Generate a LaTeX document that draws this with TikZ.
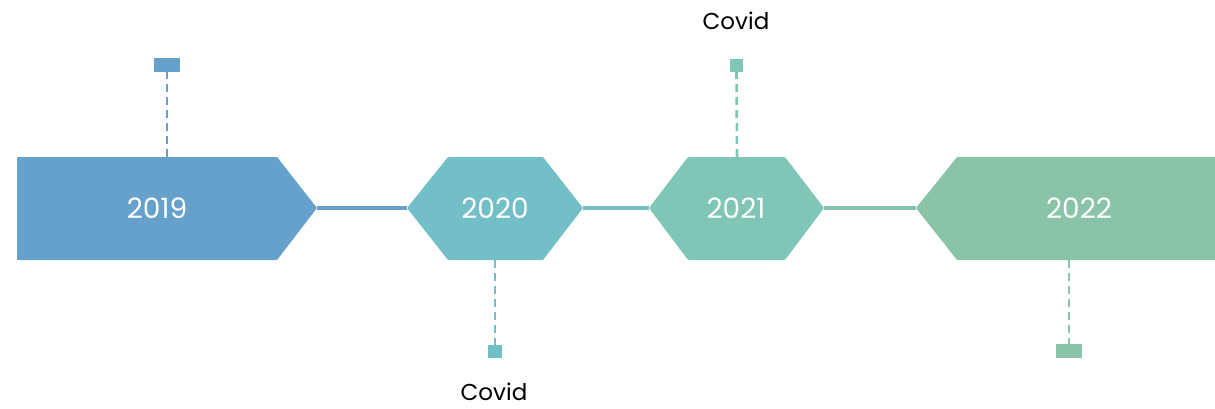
\documentclass[tikz,border=0pt]{standalone}
\usepackage{fontspec}
\setmainfont{Poppins}
\definecolor{cA}{HTML}{65A1CB}
\definecolor{cB}{HTML}{72BFC8}
\definecolor{cC}{HTML}{80C6B7}
\definecolor{cD}{HTML}{8AC4A8}
\definecolor{cL}{HTML}{85C5AE}
\begin{document}
\begin{tikzpicture}[x=1pt,y=-1pt,
  shapefill/.style={fill=#1,draw=none,rounded corners=1pt},
  year/.style={text=white,font=\fontsize{28}{32}\selectfont,inner sep=0pt},
  lbl/.style={text=black,font=\fontsize{23}{27}\selectfont,inner sep=0pt},
  link/.style={draw=#1,line width=3.5pt},
  stem/.style={draw=#1,line width=2.6pt,dash pattern=on 8pt off 5pt}]
\useasboundingbox (0,0) rectangle (1215,409);
% shapes
\fill[shapefill=cA] (17,157) -- (277,157) -- (317,208) -- (277,260) -- (17,260) -- cycle;
\fill[shapefill=cB] (407,208) -- (448,157) -- (543,157) -- (583,208) -- (543,260) -- (448,260) -- cycle;
\fill[shapefill=cC] (649,208) -- (688,157) -- (785,157) -- (824,208) -- (785,260) -- (688,260) -- cycle;
\fill[shapefill=cD] (916,208) -- (957,157) -- (1216,157) -- (1216,260) -- (957,260) -- cycle;
% anchor coordinates
\coordinate (t19) at (317,208);
\coordinate (l20) at (407,208);
\coordinate (r20) at (583,208);
\coordinate (l21) at (649,208);
\coordinate (r21) at (824,208);
\coordinate (l22) at (916,208);
\coordinate (top19) at (167,157);
\coordinate (bot20) at (495,260);
\coordinate (top21) at (737,157);
\coordinate (bot22) at (1069,260);
% year labels
\node[year] (y19) at (157,208) {2019};
\node[year] (y20) at (495,208) {2020};
\node[year] (y21) at (736,208) {2021};
\node[year] (y22) at (1079,208) {2022};
% connecting lines
\draw[link=cA] (t19) -- (l20);
\draw[link=cB] (r20) -- (l21);
\draw[link=cL] (r21) -- (l22);
% markers
\node[fill=cA,inner sep=0pt,minimum width=26pt,minimum height=14pt] (m19) at (167,65) {};
\node[fill=cB,inner sep=0pt,minimum width=14pt,minimum height=13pt] (m20) at (495,351.5) {};
\node[fill=cC,inner sep=0pt,minimum width=13pt,minimum height=13pt] (m21) at (736.5,65.5) {};
\node[fill=cD,inner sep=0pt,minimum width=26pt,minimum height=14pt] (m22) at (1069,351) {};
% stems
\draw[stem=cA] (top19) -- (m19.south);
\draw[stem=cB] (bot20) -- (m20.north);
\draw[stem=cC] (top21) -- (m21.south);
\draw[stem=cD] (bot22) -- (m22.north);
% texts
\node[lbl] (c20) at (494,392) {Covid};
\node[lbl] (c21) at (736,21) {Covid};
\end{tikzpicture}
\end{document}
